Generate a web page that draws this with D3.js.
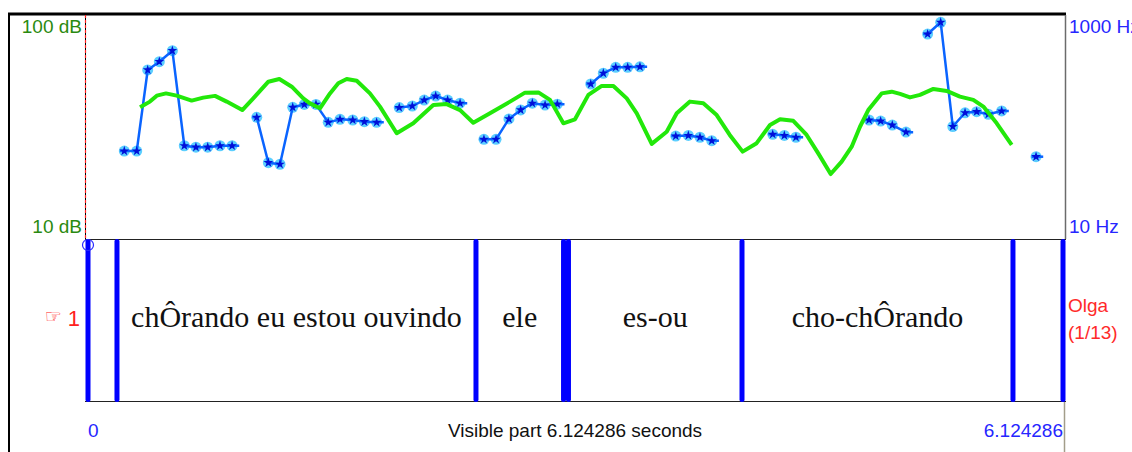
<!DOCTYPE html>
<html>
<head>
<meta charset="utf-8">
<script src="https://cdn.jsdelivr.net/npm/d3@7"></script>
<style>
  body { margin: 0; background: #fff; }
  svg { display: block; }
</style>
</head>
<body>
<svg id="chart" width="1132" height="452"></svg>
<script>
// pitch contour, one array per voiced stretch (seconds / Hz)
const pitchTimes = [
    [0.228, 0.306, 0.375, 0.448, 0.530, 0.605, 0.678, 0.752, 0.829, 0.905],
    [1.060, 1.133, 1.206, 1.286, 1.359, 1.432, 1.509, 1.583, 1.663, 1.736, 1.813],
    [1.955, 2.037, 2.112, 2.184, 2.259, 2.337],
    [2.487, 2.563, 2.644, 2.718, 2.791, 2.871, 2.948],
    [3.158, 3.237, 3.315, 3.390, 3.467],
    [3.692, 3.771, 3.844, 3.918],
    [4.301, 4.374, 4.447],
    [4.906, 4.979, 5.052, 5.138],
    [5.274, 5.356, 5.432, 5.509, 5.582, 5.655, 5.739],
    [5.955]
];
const pitchHz = [
    [61, 61, 323, 383, 480, 68, 66, 66, 68, 68],
    [122, 48, 46.5, 150, 159, 159, 110, 117, 115.5, 111.5, 110],
    [149, 154, 174, 189, 174, 163],
    [77.6, 77.6, 118, 142, 163, 157, 160],
    [242, 302, 341, 341, 345],
    [83, 84, 81, 75.4],
    [86, 84, 81],
    [115.5, 113, 104, 90],
    [676, 861, 101, 134, 137, 130, 139],
    [54.3]
];

// intensity contour (seconds / dB)
const intensityTimes = [0.327, 0.389, 0.432, 0.490, 0.557, 0.651, 0.724, 0.798, 0.871, 0.969,
    1.038, 1.133, 1.202, 1.280, 1.352, 1.394, 1.457, 1.520, 1.572, 1.625, 1.688, 1.771, 1.834, 1.939,
    2.043, 2.169, 2.253, 2.337, 2.420, 2.525, 2.651, 2.745, 2.829, 2.902, 2.986, 3.059, 3.143, 3.227,
    3.300, 3.384, 3.447, 3.541, 3.635, 3.698, 3.781, 3.865, 3.949, 4.031, 4.112, 4.200, 4.284, 4.347,
    4.430, 4.514, 4.587, 4.665, 4.734, 4.797, 4.849, 4.901, 4.985, 5.048, 5.101, 5.163, 5.226, 5.310,
    5.394, 5.477, 5.561, 5.624, 5.708, 5.802];
const intensityDb = [62.9, 65.2, 67.6, 68.5, 67.6, 65.6, 66.8, 67.5, 65.2, 61.8,
    66.5, 73.2, 74.3, 71.2, 66.5, 64.5, 62.5, 68.5, 72.6, 74.3, 73.6, 68.5, 63.2, 52.5,
    56.5, 63.8, 64.2, 61.8, 56.7, 60.5, 65.2, 68.8, 68.9, 65.9, 56.5, 58.1, 67.9, 71.5,
    71.5, 66.5, 60.5, 48.2, 53.1, 60.5, 65.2, 64.5, 59.8, 51.8, 45.1, 48.5, 55.8, 58.1,
    57.5, 51.8, 44.4, 36.1, 41.1, 47.1, 55.1, 61.8, 68.5, 69.2, 68.3, 66.9, 67.9, 70.3,
    69.5, 67.2, 65.9, 63.2, 56.5, 47.8];

// text tier
const boundaryTimes = [0, 0.182, 2.437, 2.987, 3.018, 4.108, 5.810, 6.124286];
const intervalTexts = ["", "chÔrando eu estou ouvindo", "ele", "", "es-ou", "cho-chÔrando", ""];

const duration = 6.124286;
const dbLabels = ["100 dB", "10 dB"];
const hzLabels = ["1000 Hz", "10 Hz"];
const tierName = ["Olga", "(1/13)"];

const svg = d3.select("#chart");

const x = d3.scaleLinear().domain([0, duration]).range([88, 1063]);
const yHz = d3.scaleLog().domain([10, 1000]).range([239, 15]);
const yDb = d3.scaleLinear().domain([10, 100]).range([239, 15]);

const sans = "'Liberation Sans', Arial, sans-serif";
const blueText = "#2626ff";
const greenText = "#2a8a10";

// frame
svg.append("line").attr("x1", 9).attr("x2", 9).attr("y1", 13).attr("y2", 452)
    .attr("stroke", "#000").attr("stroke-width", 2);
svg.append("line").attr("x1", 8).attr("x2", 1066).attr("y1", 14).attr("y2", 14)
    .attr("stroke", "#000").attr("stroke-width", 3);
svg.append("line").attr("x1", 1065.5).attr("x2", 1065.5).attr("y1", 15).attr("y2", 239)
    .attr("stroke", "#6b6b6b").attr("stroke-width", 1.5);
svg.append("line").attr("x1", 85.5).attr("x2", 85.5).attr("y1", 15).attr("y2", 239)
    .attr("stroke", "#000").attr("stroke-width", 1);
svg.append("line").attr("x1", 85.5).attr("x2", 85.5).attr("y1", 15).attr("y2", 239)
    .attr("stroke", "#ff2020").attr("stroke-width", 1.2).attr("stroke-dasharray", "3,2");

// axis labels
svg.append("text").attr("x", 82).attr("y", yDb(100) + 18).attr("text-anchor", "end")
    .attr("font-family", sans).attr("font-size", 19).attr("fill", greenText).text(dbLabels[0]);
svg.append("text").attr("x", 82).attr("y", yDb(10) - 6).attr("text-anchor", "end")
    .attr("font-family", sans).attr("font-size", 19).attr("fill", greenText).text(dbLabels[1]);
svg.append("text").attr("x", 1069).attr("y", yHz(1000) + 18)
    .attr("font-family", sans).attr("font-size", 19).attr("fill", blueText).text(hzLabels[0]);
svg.append("text").attr("x", 1069).attr("y", yHz(10) - 6)
    .attr("font-family", sans).attr("font-size", 19).attr("fill", blueText).text(hzLabels[1]);

// pitch
const pitchLine = d3.line().x(d => x(d.t)).y(d => yHz(d.f));
const segs = pitchTimes.map((ts, i) => ts.map((t, j) => ({ t: t, f: pitchHz[i][j] })));
const pts = segs.flat();

// short tail before the first and after the last frame of each stretch
const tailed = segs.map(s => [{ t: s[0].t - 0.028, f: s[0].f }, ...s, { t: s[s.length - 1].t + 0.045, f: s[s.length - 1].f }]);

svg.append("g").selectAll("circle").data(pts).enter().append("circle")
    .attr("cx", d => x(d.t)).attr("cy", d => yHz(d.f)).attr("r", 5.5)
    .attr("fill", "#5ccfff");

svg.append("g").selectAll("path").data(tailed).enter().append("path")
    .attr("d", pitchLine).attr("fill", "none")
    .attr("stroke", "#0a64ff").attr("stroke-width", 2.5).attr("stroke-linejoin", "round");

svg.append("g").selectAll("path").data(pts).enter().append("path")
    .attr("transform", d => `translate(${x(d.t)},${yHz(d.f)})`)
    .attr("d", d3.symbol().type(d3.symbolStar).size(30))
    .attr("fill", "#0010d8");

// intensity
const dbLine = d3.line().x((d, i) => x(intensityTimes[i])).y(d => yDb(d));
svg.append("path").datum(intensityDb).attr("d", dbLine).attr("fill", "none")
    .attr("stroke", "#22e80a").attr("stroke-width", 4).attr("stroke-linejoin", "round");

// tier box
svg.append("line").attr("x1", 85).attr("x2", 1066).attr("y1", 239.5).attr("y2", 239.5)
    .attr("stroke", "#222").attr("stroke-width", 1);
svg.append("line").attr("x1", 85).attr("x2", 1066).attr("y1", 401.5).attr("y2", 401.5)
    .attr("stroke", "#222").attr("stroke-width", 1);
svg.append("line").attr("x1", 1064.5).attr("x2", 1064.5).attr("y1", 402).attr("y2", 452)
    .attr("stroke", "#a39d8a").attr("stroke-width", 1.5);

const intervals = intervalTexts.map((txt, i) => ({ a: boundaryTimes[i], b: boundaryTimes[i + 1], txt: txt }));
svg.append("g").selectAll("text").data(intervals.filter(d => d.txt)).enter().append("text")
    .attr("x", d => x((d.a + d.b) / 2)).attr("y", 327).attr("text-anchor", "middle")
    .attr("font-family", "'Liberation Serif', 'Times New Roman', serif").attr("font-size", 30)
    .attr("fill", "#111").text(d => d.txt);

svg.append("g").selectAll("line").data(boundaryTimes).enter().append("line")
    .attr("x1", d => x(d)).attr("x2", d => x(d)).attr("y1", 241.5).attr("y2", 399.5)
    .attr("stroke", "#0000ff").attr("stroke-width", 5).attr("stroke-linecap", "round");

svg.append("circle").attr("cx", x(0)).attr("cy", 245).attr("r", 5.5)
    .attr("fill", "none").attr("stroke", "#2a2aff").attr("stroke-width", 1.2);

// tier labels
const tierNum = svg.append("text").attr("x", 80).attr("y", 326).attr("text-anchor", "end")
    .attr("font-family", sans).attr("fill", "#ff2020");
tierNum.append("tspan").attr("font-family", "'DejaVu Sans', sans-serif").attr("font-size", 19).attr("dy", -3).text("☞");
tierNum.append("tspan").attr("font-size", 22).attr("dx", 6).attr("dy", 3).text("1");

svg.append("text").attr("x", 1068).attr("y", 312)
    .attr("font-family", sans).attr("font-size", 19).attr("fill", "#ff2a2a").text(tierName[0]);
svg.append("text").attr("x", 1068).attr("y", 339)
    .attr("font-family", sans).attr("font-size", 19).attr("fill", "#ff2a2a").text(tierName[1]);

// time labels
svg.append("text").attr("x", x(0)).attr("y", 437)
    .attr("font-family", sans).attr("font-size", 19).attr("fill", blueText).text(0);
svg.append("text").attr("x", x(duration)).attr("y", 437).attr("text-anchor", "end")
    .attr("font-family", sans).attr("font-size", 19).attr("fill", blueText).text(duration);
svg.append("text").attr("x", 575).attr("y", 437).attr("text-anchor", "middle")
    .attr("font-family", sans).attr("font-size", 19).attr("fill", "#111")
    .text(`Visible part ${duration} seconds`);
</script>
</body>
</html>
